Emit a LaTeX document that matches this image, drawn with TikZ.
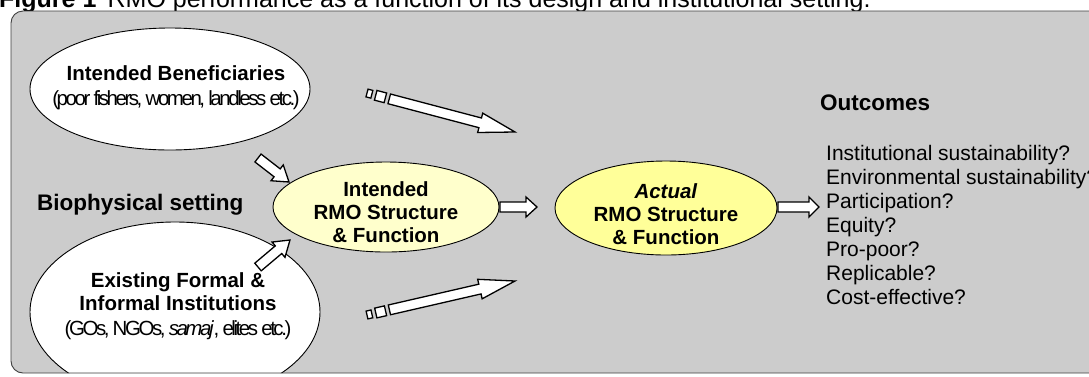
\documentclass[tikz,border=0pt]{standalone}
\usepackage{fontspec}
\setmainfont{Liberation Sans}
\newfontfamily\tightfont[LetterSpace=-12]{Liberation Sans}
\usetikzlibrary{shapes.geometric,calc}

\definecolor{panelgray}{RGB}{204,204,204}
\definecolor{paleyellow}{RGB}{255,255,204}
\definecolor{brightyellow}{RGB}{255,255,153}

% block arrow: #2 tail, #3 tip, #4 shaft half width, #5 head half width,
% #6 head length, optional #1 distance of the shaft start from the tail
\newcommand\blockarrow[6][0pt]{%
  \coordinate (ba-s) at ($(#2)!#1!(#3)$);
  \coordinate (ba-h) at ($(#3)!#6!(#2)$);
  \draw[blockarr] ($(ba-s)!#4!90:(#3)$) -- ($(ba-h)!#4!90:(#3)$)
    -- ($(ba-h)!#5!90:(#3)$) -- (#3) -- ($(ba-h)!#5!-90:(#3)$)
    -- ($(ba-h)!#4!-90:(#3)$) -- ($(ba-s)!#4!-90:(#3)$) -- cycle;}
% stripe of a striped arrow: #1 tail, #2 tip, #3 start, #4 end, #5 half width
\newcommand\arrowstripe[5]{%
  \coordinate (st-a) at ($(#1)!#3!(#2)$);
  \coordinate (st-b) at ($(#1)!#4!(#2)$);
  \draw[blockarr] ($(st-a)!#5!90:(#2)$) -- ($(st-b)!#5!90:(#2)$)
    -- ($(st-b)!#5!-90:(#2)$) -- ($(st-a)!#5!-90:(#2)$) -- cycle;}

\begin{document}
\begin{tikzpicture}[x=1pt,y=-1pt,
  panel/.style={draw=black!75,line width=0.9pt,rounded corners=12pt},
  oval/.style={ellipse,draw=black,line width=0.9pt,inner sep=0pt},
  blockarr/.style={draw=black,fill=white,line width=1.3pt,line join=miter},
  boldtext/.style={font=\bfseries\fontsize{20.5}{23}\selectfont,align=center,inner sep=0pt},
  plaintext/.style={font=\fontsize{21}{24}\selectfont,anchor=base west,inner sep=0pt}]
\useasboundingbox (0,0) rectangle (1089,376);

% title line
\node[anchor=base west,inner sep=0pt,font=\fontsize{25}{28}\selectfont] (title) at (-1,7)
  {\textbf{Figure 1}\hspace{0.45em}RMO performance as a function of its design and institutional setting.};

% grey panel
\fill[panelgray,rounded corners=12pt] (11,11) rectangle (1110,373);

\begin{scope}
  \clip[rounded corners=12pt] (11,11) rectangle (1110,373);
  \node[oval,fill=white,minimum width=280pt,minimum height=122pt] (benef) at (170,89) {};
  \node[oval,fill=white,minimum width=290pt,minimum height=180pt] (inst) at (175,312) {};
\end{scope}
\draw[panel] (11,11) rectangle (1110,373);

\node[boldtext] (beneftext) at (176,88)
  {Intended Beneficiaries\\[2pt]{\mdseries\tightfont (poor fishers, women, landless etc.)}};
\node[boldtext] (insttext) at (178,306)
  {Existing Formal \&\\Informal Institutions\\[2pt]{\mdseries\tightfont (GOs, NGOs, \textit{samaj}, elites etc.)}};

\node[oval,fill=paleyellow,minimum width=226pt,minimum height=90pt] (intended) at (386,207) {};
\node[boldtext] (intendedtext) at (386,212) {Intended\\RMO Structure\\\& Function};
\node[oval,fill=brightyellow,minimum width=222pt,minimum height=94pt] (actual) at (666,208) {};
\node[boldtext] (actualtext) at (666,214) {\textit{Actual}\\RMO Structure\\\& Function};

\node[boldtext,anchor=west,font=\bfseries\fontsize{22.5}{26}\selectfont] (bio) at (37,205) {Biophysical setting};
\node[boldtext,anchor=west,font=\bfseries\fontsize{22.5}{26}\selectfont] (outcomes) at (820,103) {Outcomes};

\foreach \t [count=\i from 0] in {Institutional sustainability?,Environmental sustainability?,
    Participation?,Equity?,Pro-poor?,Replicable?,Cost-effective?}
  \node[plaintext] (out\i) at (826,{160.5+24*\i}) {\t};

% arrow end points
\coordinate (a1t) at (258,158);  \coordinate (a1h) at (289,182);
\coordinate (a2t) at (258,267);  \coordinate (a2h) at (290,240);
\coordinate (a3t) at (500,207);  \coordinate (a3h) at (537,207);
\coordinate (a4t) at (778,207);  \coordinate (a4h) at (819,207);
\coordinate (a5t) at (367,93);   \coordinate (a5h) at (515,132);
\coordinate (a6t) at (367,315);  \coordinate (a6h) at (515,281);

\blockarrow{a1t}{a1h}{5pt}{10pt}{15pt}
\blockarrow{a2t}{a2h}{5pt}{10pt}{15pt}
\blockarrow{a3t}{a3h}{5pt}{10pt}{11pt}
\blockarrow{a4t}{a4h}{5pt}{10pt}{10pt}

\arrowstripe{a5t}{a5h}{0pt}{5pt}{4pt}
\arrowstripe{a5t}{a5h}{9pt}{19pt}{5pt}
\blockarrow[23pt]{a5t}{a5h}{5pt}{10pt}{36pt}

\arrowstripe{a6t}{a6h}{0pt}{5pt}{4pt}
\arrowstripe{a6t}{a6h}{9pt}{19pt}{5pt}
\blockarrow[23pt]{a6t}{a6h}{5pt}{10pt}{36pt}
\end{tikzpicture}
\end{document}
